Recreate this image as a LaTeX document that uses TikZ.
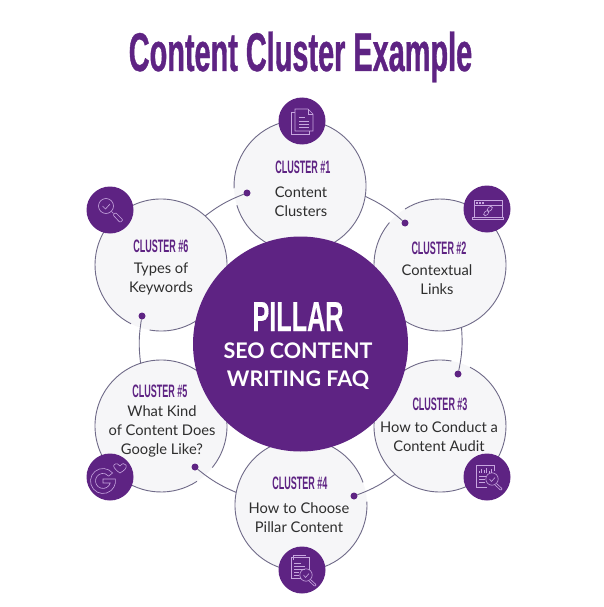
\documentclass[tikz,border=0pt]{standalone}
\usepackage{fontspec}
\setmainfont{Lato}
\newfontfamily\titlefont[FakeStretch=0.53,FakeBold=0.7]{Liberation Sans}
\newfontfamily\pillarfont[FakeStretch=0.6,FakeBold=0.3]{Liberation Sans}
\newfontfamily\headfont[FakeStretch=0.5]{Liberation Sans}
\definecolor{pur}{HTML}{5E2383}
\definecolor{iconline}{HTML}{C7A6DF}
\definecolor{ringline}{HTML}{6F6A88}
\definecolor{cellfill}{HTML}{F6F6F8}
\tikzset{
  cellbg/.style={circle,minimum size=132pt,inner sep=0pt,outer sep=0pt,fill=cellfill},
  ring/.style={draw=ringline,line width=0.9pt},
  link/.style={draw=ringline,line width=0.9pt,bend right=8},
  dotn/.style={circle,minimum size=7pt,inner sep=0pt,outer sep=0pt,fill=pur},
  badge/.style={circle,minimum size=47pt,inner sep=0pt,outer sep=0pt,fill=pur},
  icon/.style={draw=iconline,line width=0.6pt},
  head/.style={text=pur,font=\headfont\bfseries\fontsize{18}{20}\selectfont,inner sep=0pt},
  body/.style={text=black!82,font=\fontsize{14.7}{19}\selectfont,align=center,inner sep=0pt}
}
\begin{document}
\begin{tikzpicture}[x=1pt,y=1pt]
\useasboundingbox (0,-607) rectangle (603,0);
\fill[white] (0,-607) rectangle (603,0);
\node[text=pur,font=\titlefont\bfseries\fontsize{54.5}{58}\selectfont,inner sep=0pt,anchor=base] (title) at (300.5,-71) {Content Cluster Example};
% cells
\node[cellbg] (c1) at (300,-186) {};
\node[cellbg] (c2) at (440,-265) {};
\node[cellbg] (c3) at (440,-426) {};
\node[cellbg] (c4) at (301,-505) {};
\node[cellbg] (c5) at (161,-426) {};
\node[cellbg] (c6) at (161,-265) {};
% outlines with gaps
\draw[ring] (c1.197) arc[start angle=197,end angle=542,radius=66];
\draw[ring] (c2.140) arc[start angle=140,end angle=482,radius=66];
\draw[ring] (c3.80) arc[start angle=80,end angle=423,radius=66];
\draw[ring] (c4.20) arc[start angle=20,end angle=363,radius=66];
\draw[ring] (c5.-39) arc[start angle=-39,end angle=303,radius=66];
\draw[ring] (c6.260) arc[start angle=260,end angle=603,radius=66];
% dots
\node[dotn] (d1) at (247,-193) {};
\node[dotn] (d2) at (405,-223) {};
\node[dotn] (d3) at (458,-374) {};
\node[dotn] (d4) at (354,-496) {};
\node[dotn] (d5) at (195,-467) {};
\node[dotn] (d6) at (142,-316) {};
% connectors
\draw[link] (d1) to (c6.48.7);
\draw[link] (d2) to (c1.-9.5);
\draw[link] (d3) to (c2.-71.6);
\draw[link] (d4) to (c3.227);
\draw[link] (d5) to (c4.169);
\draw[link] (d6) to (c5.108);
% pillar
\node[circle,minimum size=215pt,inner sep=0pt,fill=pur] (pillar) at (300.5,-344) {};
\node[text=white,font=\pillarfont\bfseries\fontsize{42}{44}\selectfont,inner sep=0pt,anchor=base] (p1) at (298,-331) {PILLAR};
\node[text=white,font=\bfseries\fontsize{21.5}{28}\selectfont,align=center,inner sep=0pt] (p2) at (298,-366) {SEO CONTENT\\WRITING FAQ};
% labels
\node[head] (h1) at (303,-167) {CLUSTER \#1};
\node[body] (b1) at (301,-201.5) {Content\\Clusters};
\node[head] (h2) at (439,-248) {CLUSTER \#2};
\node[body] (b2) at (437,-279.5) {Contextual\\Links};
\node[head] (h3) at (440,-404) {CLUSTER \#3};
\node[body] (b3) at (439,-436.5) {How to Conduct a\\Content Audit};
\node[head] (h4) at (300,-483) {CLUSTER \#4};
\node[body] (b4) at (299,-517.5) {How to Choose\\Pillar Content};
\node[head] (h5) at (160,-391) {CLUSTER \#5};
\node[body] (b5) at (162,-431.5) {What Kind\\of Content Does\\Google Like?};
\node[head] (h6) at (161,-246) {CLUSTER \#6};
\node[body] (b6) at (161,-278.5) {Types of\\Keywords};
% badges
\node[badge] (i1) at (302,-121) {};
\node[badge] (i2) at (487,-209) {};
\node[badge] (i3) at (487,-477) {};
\node[badge] (i4) at (302,-570) {};
\node[badge] (i5) at (110,-477) {};
\node[badge] (i6) at (110,-210) {};
% icon 1: stacked pages
\begin{scope}[shift={(i1.center)},icon]
\draw (-7,12) -- (6,12) -- (11,7) -- (11,-10) -- (-7,-10) -- cycle;
\draw (6,12) -- (6,7) -- (11,7);
\draw (-7,9) -- (-11,9) -- (-11,-13) -- (7,-13) -- (7,-10);
\draw (-3,4) -- (3,4) (-3,0) -- (7,0) (-3,-3) -- (7,-3) (-3,-6) -- (7,-6);
\end{scope}
% icon 2: browser with link
\begin{scope}[shift={(i2.center)},icon]
\draw (-13,-8) -- (-13,9) -- (15,9) -- (15,-8);
\draw (-13,4) -- (15,4);
\draw (-15,-8) rectangle (16,-10);
\foreach \q in {-11,-8,-5} \fill[iconline] (\q,5.5) rectangle +(2,2);
\draw[rounded corners=2pt,rotate around={45:(1,-2)}] (-4.5,-4) rectangle (1,-0.5);
\draw[rounded corners=2pt,rotate around={45:(1,-2)}] (1,-3.5) rectangle (6.5,0);
\end{scope}
% icon 3: report with magnifier
\begin{scope}[shift={(i3.center)},icon]
\draw (0,-10) -- (-11,-10) -- (-11,12) -- (7,12) -- (7,6);
\draw (-8,4) -- (-8,6) (-5.5,4) -- (-5.5,8) (-3,4) -- (-3,7) (-0.5,4) -- (-0.5,9) (2,4) -- (2,6.5) (4.5,4) -- (4.5,8);
\draw (-8,1) -- (-1,1) (-8,-2) -- (-2,-2) (-8,-5) -- (-2,-5);
\draw (5,-2) circle[radius=6.2];
\draw (2.5,-2) -- (4.5,-4.5) -- (8,-0.5);
\draw[rounded corners=1pt] (9.5,-6.5) -- (15.5,-12) -- (14,-13.5) -- (8,-8);
\end{scope}
% icon 4: document with magnifier
\begin{scope}[shift={(i4.center)},icon]
\draw (-1,-8) -- (-11,-8) -- (-11,13) -- (7,13) -- (7,0);
\draw (-9,10) -- (-9,15) -- (4,15);
\draw (-8,7) -- (-1,7) (-8,4) -- (3,4) (-8,1) -- (3,1) (-8,-2) -- (-3,-2) (-8,-5) -- (-3,-5);
\draw (4,-5) circle[radius=6.2];
\draw (1.5,-5) -- (3.5,-7.5) -- (7,-3.5);
\draw[rounded corners=1pt] (8.5,-9.5) -- (14.5,-15) -- (13,-16.5) -- (7,-11);
\end{scope}
% icon 5: G and heart
\begin{scope}[shift={(i5.center)},icon]
\begin{scope}[shift={(-7,-4)}]
\draw (40:12.5) arc[start angle=40,end angle=350,radius=12.5] -- (12.3,2) -- (0,2) -- (0,-2) -- (7.2,-2)
  arc[start angle=-16,end angle=-320,radius=7.5] -- cycle;
\end{scope}
\draw (10,4) .. controls (4,8) and (3,11) .. (4,12) .. controls (6,14.5) and (9,13) .. (10,11)
  .. controls (12,14) and (15,14) .. (16,12) .. controls (17,9) and (15,7) .. cycle;
\end{scope}
% icon 6: magnifier with check
\begin{scope}[shift={(i6.center)},icon]
\draw (-4,4) circle[radius=7.5];
\draw (-7.5,4) -- (-4.5,1) -- (0,6);
\draw (1.5,-1.5) -- (3.5,-3.5);
\draw[rounded corners=1pt] (3,-5) -- (10,-12.5) -- (13,-10) -- (5.5,-2.5) -- cycle;
\end{scope}
\end{tikzpicture}
\end{document}
